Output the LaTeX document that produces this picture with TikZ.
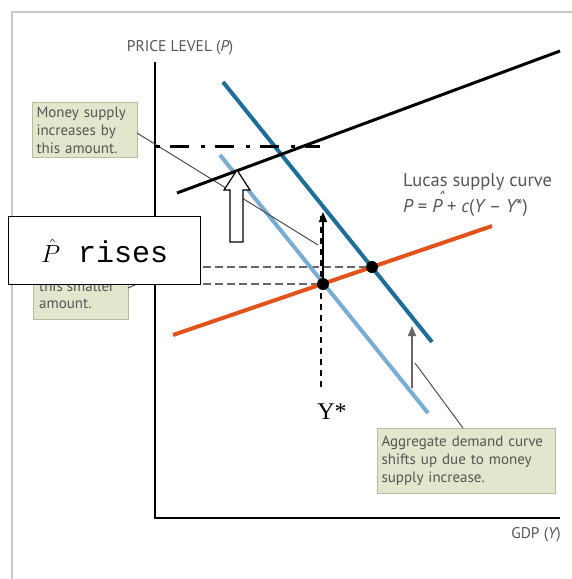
\documentclass[tikz,border=0pt]{standalone}
\usepackage{fontspec}
\usetikzlibrary{arrows.meta}
\newfontfamily\lab{PT Sans}
\newfontfamily\cour{Liberation Mono}
\newfontfamily\tms{Liberation Serif}
\definecolor{framec}{HTML}{C8C8C8}
\definecolor{darkblue}{HTML}{1D6E98}
\definecolor{lightblue}{HTML}{78AED2}
\definecolor{orangec}{HTML}{E2531B}
\definecolor{notefill}{HTML}{E3E6CC}
\definecolor{notedraw}{HTML}{B8BCA0}
\definecolor{txtgray}{HTML}{555555}
\newcommand{\phatsans}{\makebox[0pt][l]{\hspace{0.22em}\raisebox{0.42em}{ˆ}}P}
\tikzset{
  lbl/.style={text=txtgray, inner sep=0pt, font=\lab\fontsize{15.5}{18}\selectfont},
  note/.style={fill=notefill, draw=notedraw, line width=1pt, inner sep=4pt, align=left,
    text=txtgray, font=\lab\fontsize{15}{18}\selectfont},
  leader/.style={draw=black!75, line width=0.9pt},
  guide/.style={draw=black!60, line width=1.3pt, dash pattern=on 8pt off 4pt},
  vguide/.style={draw=black, line width=1.5pt, dash pattern=on 6pt off 5pt},
  eqdot/.style={circle, fill=black, inner sep=0pt, minimum size=12pt},
}
\begin{document}
\begin{tikzpicture}[x=1pt,y=-1pt]
\useasboundingbox (0,0) rectangle (572,579);
\fill[white] (0,0) rectangle (572,579);
\draw[framec, line width=2pt] (11.7,579) -- (11.7,11.7) -- (572,11.7);

% axes
\coordinate (ytop) at (155,62);
\coordinate (orig) at (155,518);
\coordinate (xend) at (560,518);
\draw[line width=1.6pt] (ytop) -- (orig) -- (xend);
\node[lbl] (plab) at (180,48) {PRICE LEVEL ({\itshape P})};
\node[lbl] (glab) at (536,535) {GDP ({\itshape Y})};

% coordinates
\coordinate (adn1) at (223,82);
\coordinate (adn2) at (432,342);
\coordinate (ado1) at (220,155);
\coordinate (ado2) at (428,413);
\coordinate (ls1) at (173,335);
\coordinate (ls2) at (492,226);
\coordinate (e1) at (372,267);
\coordinate (e0) at (323,284);
\coordinate (ax1) at (155,267);
\coordinate (ax0) at (155,284);
\coordinate (vbot) at (321,387);
\coordinate (vtop) at (321,216);
\coordinate (atip) at (323,212);
\coordinate (gbot) at (412,388);
\coordinate (gtip) at (412,326);
\coordinate (bl1) at (177,193);
\coordinate (bl2) at (560,51);
\coordinate (dd1) at (156,146);
\coordinate (dd2) at (320,146);

% hidden note (behind P-hat box)
\node[note, minimum width=95pt, minimum height=70pt, anchor=south west] (hnote) at (33,320) {};
\node[lbl, font=\lab\fontsize{15}{17}\selectfont, align=left, anchor=north west] (htext) at (39,281) {this smaller\\amount.};
\coordinate (hl1) at (128,288);
\coordinate (hl2) at (160,274);
\draw[leader] (hl1) -- (hl2);

% dashed guides
\draw[guide] (ax1) -- (e1);
\draw[guide] (ax0) -- (e0);
\draw[vguide] (vbot) -- (vtop);

% AD curves
\draw[lightblue, line width=4pt] (ado1) -- (ado2);
\draw[darkblue, line width=4pt] (adn1) -- (adn2);

% Money supply note + leader
\node[note, text width=97pt, anchor=north west] (mnote) at (32,102) {Money supply\\increases by\\this amount.};
\coordinate (ml1) at (137,133);
\coordinate (ml2) at (318,245);
\draw[leader] (ml1) -- (ml2);

% Lucas supply
\draw[orangec, line width=4pt] (ls1) -- (ls2);
\node[lbl, font=\lab\fontsize{18.5}{25}\selectfont, align=left, anchor=west] (lucas) at (403,195)
  {Lucas supply curve\\{\itshape P} = {\itshape\phatsans} + {\itshape c}({\itshape Y} – {\itshape Y}*)};

% arrows
\draw[line width=1.5pt, -{Triangle[length=10pt,width=8pt]}] (e0) -- (atip);
\draw[black!60, line width=1.6pt, -{Triangle[length=10pt,width=8pt]}] (gbot) -- (gtip);

% AD note + leader
\node[note, text width=170pt, minimum height=65pt, anchor=north west] (adnote) at (377,428)
  {Aggregate demand curve\\shifts up due to money\\supply increase.};
\coordinate (al1) at (415,363);
\draw[leader] (al1) -- (adnote.north west -| 463,0);

% equilibrium dots
\node[eqdot] (d1) at (e1) {};
\node[eqdot] (d0) at (e0) {};

% Y* label
\node[inner sep=0pt, font=\tms\fontsize{24}{24}\selectfont] (ystar) at (332,412) {Y*};

% black line and dash-dot
\draw[line width=3pt] (bl1) -- (bl2);
\draw[line width=3pt, dash pattern=on 4pt off 10pt on 19pt off 12pt] (dd1) -- (dd2);

% hollow arrow
\draw[fill=white, line width=1.2pt, line join=miter]
  (230,242) -- (230,190) -- (224,190) -- (237,170) -- (250,190) -- (243,190) -- (243,242) -- cycle;

% P-hat rises box
\node[draw, fill=white, line width=1.3pt, minimum width=192pt, minimum height=68pt, anchor=north west, inner sep=0pt] (prises) at (8,216)
  {\fontsize{30}{30}\selectfont$\hat{P}$\cour\ rises};
\end{tikzpicture}
\end{document}
